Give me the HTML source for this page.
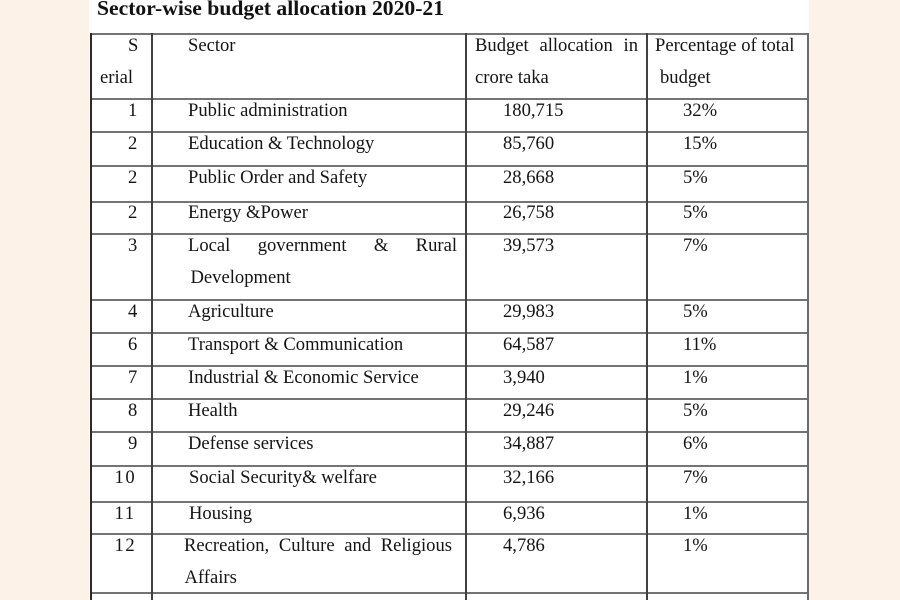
<!DOCTYPE html>
<html>
<head>
<meta charset="utf-8">
<style>
  html, body { margin:0; padding:0; }
  body { width:900px; height:600px; background:#fdf2e8; position:relative; overflow:hidden;
         font-family:"Liberation Serif","Times New Roman",serif; color:#141414; }
  .page { position:absolute; left:89px; top:0; width:720px; height:600px; background:#ffffff; }
  .h { position:absolute; left:90px; width:719px; height:2px; background:#747474; }
  .v { position:absolute; top:33px; height:567px; width:2px; background:#404040; }
  .t { position:absolute; white-space:pre; font-size:18.6px; line-height:32px; }
  .j { position:absolute; font-size:18.6px; line-height:32px; text-align:justify; text-align-last:justify; white-space:normal; }
  .n2 { letter-spacing:1.6px; }
  .title { position:absolute; left:97px; top:-2px; font-size:21px; line-height:21px; font-weight:bold;
           white-space:pre; transform:scaleX(1.03); transform-origin:0 0; color:#111; }
</style>
</head>
<body>
<div class="page"></div>

<div class="title">Sector-wise budget allocation 2020-21</div>

<!-- horizontal lines -->
<div class="h" style="top:33px"></div>
<div class="h" style="top:98px"></div>
<div class="h" style="top:131px"></div>
<div class="h" style="top:165px"></div>
<div class="h" style="top:201px"></div>
<div class="h" style="top:233px"></div>
<div class="h" style="top:299px"></div>
<div class="h" style="top:332px"></div>
<div class="h" style="top:365px"></div>
<div class="h" style="top:398px"></div>
<div class="h" style="top:431px"></div>
<div class="h" style="top:465px"></div>
<div class="h" style="top:501px"></div>
<div class="h" style="top:533px"></div>
<div class="h" style="top:592px"></div>

<!-- vertical lines -->
<div class="v" style="left:89.5px; background:#2a2a2a"></div>
<div class="v" style="left:150.5px"></div>
<div class="v" style="left:464.5px"></div>
<div class="v" style="left:646px"></div>
<div class="v" style="left:807.3px; background:#6a6a6a"></div>

<!-- header -->
<div class="t" style="left:128px; top:30px">S</div>
<div class="t" style="left:100px; top:62px">erial</div>
<div class="t" style="left:188px; top:30px">Sector</div>
<div class="j" style="left:475px; top:30px; width:163px">Budget allocation in</div>
<div class="t" style="left:475px; top:62px">crore taka</div>
<div class="t" style="left:655px; top:30px">Percentage of total</div>
<div class="t" style="left:660px; top:62px">budget</div>

<!-- row 1 (L=99) -->
<div class="t" style="left:128px; top:95px">1</div>
<div class="t" style="left:188px; top:95px">Public administration</div>
<div class="t" style="left:503px; top:95px">180,715</div>
<div class="t" style="left:683px; top:95px">32%</div>

<!-- row 2 (L=132) -->
<div class="t" style="left:128px; top:128px">2</div>
<div class="t" style="left:188px; top:128px">Education &amp; Technology</div>
<div class="t" style="left:503px; top:128px">85,760</div>
<div class="t" style="left:683px; top:128px">15%</div>

<!-- row 3 (L=166) -->
<div class="t" style="left:128px; top:162px">2</div>
<div class="t" style="left:188px; top:162px">Public Order and Safety</div>
<div class="t" style="left:503px; top:162px">28,668</div>
<div class="t" style="left:683px; top:162px">5%</div>

<!-- row 4 (L=202) -->
<div class="t" style="left:128px; top:197px">2</div>
<div class="t" style="left:188px; top:197px">Energy &amp;Power</div>
<div class="t" style="left:503px; top:197px">26,758</div>
<div class="t" style="left:683px; top:197px">5%</div>

<!-- row 5 (L=234) -->
<div class="t" style="left:128px; top:230px">3</div>
<div class="j" style="left:188px; top:230px; width:269px">Local government &amp; Rural</div>
<div class="t" style="left:190.5px; top:262px">Development</div>
<div class="t" style="left:503px; top:230px">39,573</div>
<div class="t" style="left:683px; top:230px">7%</div>

<!-- row 6 (L=300) -->
<div class="t" style="left:128px; top:296px">4</div>
<div class="t" style="left:188px; top:296px">Agriculture</div>
<div class="t" style="left:503px; top:296px">29,983</div>
<div class="t" style="left:683px; top:296px">5%</div>

<!-- row 7 (L=333) -->
<div class="t" style="left:128px; top:329px">6</div>
<div class="t" style="left:188px; top:329px">Transport &amp; Communication</div>
<div class="t" style="left:503px; top:329px">64,587</div>
<div class="t" style="left:683px; top:329px">11%</div>

<!-- row 8 (L=366) -->
<div class="t" style="left:128px; top:362px">7</div>
<div class="t" style="left:188px; top:362px">Industrial &amp; Economic Service</div>
<div class="t" style="left:503px; top:362px">3,940</div>
<div class="t" style="left:683px; top:362px">1%</div>

<!-- row 9 (L=399) -->
<div class="t" style="left:128px; top:395px">8</div>
<div class="t" style="left:188px; top:395px">Health</div>
<div class="t" style="left:503px; top:395px">29,246</div>
<div class="t" style="left:683px; top:395px">5%</div>

<!-- row 10 (L=432) -->
<div class="t" style="left:128px; top:428px">9</div>
<div class="t" style="left:188px; top:428px">Defense services</div>
<div class="t" style="left:503px; top:428px">34,887</div>
<div class="t" style="left:683px; top:428px">6%</div>

<!-- row 11 (L=466) -->
<div class="t n2" style="left:114.5px; top:462px">10</div>
<div class="t" style="left:189px; top:462px">Social Security&amp; welfare</div>
<div class="t" style="left:503px; top:462px">32,166</div>
<div class="t" style="left:683px; top:462px">7%</div>

<!-- row 12 (L=502) -->
<div class="t n2" style="left:114.5px; top:498px">11</div>
<div class="t" style="left:189px; top:498px">Housing</div>
<div class="t" style="left:503px; top:498px">6,936</div>
<div class="t" style="left:683px; top:498px">1%</div>

<!-- row 13 (L=534) -->
<div class="t n2" style="left:114.5px; top:530px">1<span style="letter-spacing:0">2</span></div>
<div class="j" style="left:184px; top:530px; width:268px">Recreation, Culture and Religious</div>
<div class="t" style="left:184.5px; top:562px">Affairs</div>
<div class="t" style="left:503px; top:530px">4,786</div>
<div class="t" style="left:683px; top:530px">1%</div>

</body>
</html>
